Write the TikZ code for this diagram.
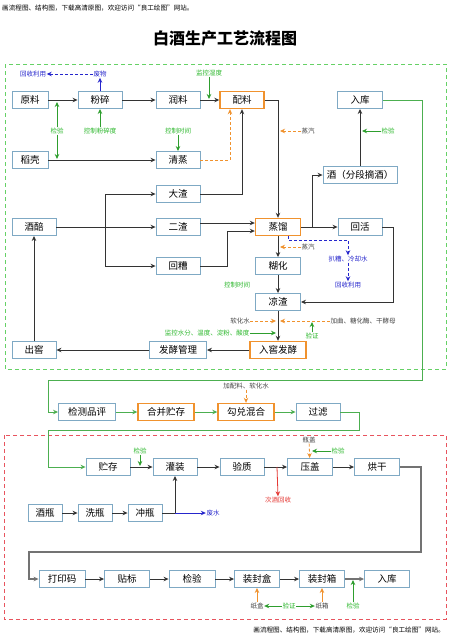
\documentclass[tikz,border=0pt]{standalone}
\usepackage{fontspec}
\setmainfont{Noto Sans CJK SC}
\usetikzlibrary{arrows.meta,calc}
\definecolor{boxc}{HTML}{7FA9C4}
\definecolor{orng}{HTML}{F0922E}
\definecolor{grn}{HTML}{2DB82D}
\definecolor{grnl}{HTML}{2E9E2E}
\definecolor{grnbig}{HTML}{4CAF50}
\definecolor{grnbox}{HTML}{66D166}
\definecolor{blu}{HTML}{2626CC}
\definecolor{redc}{HTML}{E53935}
\definecolor{redbox}{HTML}{E8545E}
\definecolor{linec}{HTML}{333333}
\definecolor{txtgray}{HTML}{444444}
\tikzset{
  box/.style={draw=boxc, fill=white, line width=0.9pt, minimum height=17pt, inner sep=0pt, font=\fontsize{9.5}{11}\selectfont},
  obox/.style={box, draw=orng, line width=1.4pt},
  lab/.style={font=\fontsize{6.5}{7}\selectfont, inner sep=0.5pt, text=txtgray},
  glab/.style={lab, text=grn},
  blab/.style={lab, text=blu},
  rlab/.style={lab, text=redc},
  flow/.style={draw=linec, line width=0.8pt, -{Stealth[length=5pt,width=4.5pt]}},
  gflow/.style={flow, draw=grnl},
  bigg/.style={flow, draw=grnbig, line width=1pt},
  oflow/.style={flow, draw=orng, dash pattern=on 3pt off 2pt},
  bflow/.style={flow, draw=blu},
  bdash/.style={flow, draw=blu, dash pattern=on 3pt off 2pt},
  rflow/.style={flow, draw=redc},
}
\begin{document}
\begin{tikzpicture}[x=1pt,y=-1pt]
\useasboundingbox (0,0) rectangle (451,640);
\fill[white] (0,0) rectangle (451,640);
% header texts
\node[anchor=west, font=\fontsize{6.6}{7}\selectfont, inner sep=0] (toptxt) at (2,8) {画流程图、结构图，下载高清原图，欢迎访问“良工绘图”网站。};
\node[font=\fontsize{16}{18}\selectfont\bfseries, inner sep=0] (title) at (225,38) {白酒生产工艺流程图};
\node[anchor=east, font=\fontsize{6.6}{7}\selectfont, inner sep=0] (bottxt) at (445,630) {画流程图、结构图，下载高清原图，欢迎访问“良工绘图”网站。};
% group boxes
\draw[draw=grnbox, line width=1pt, dash pattern=on 4pt off 3pt] (5,64) rectangle (446,369);
\draw[draw=redbox, line width=1pt, dash pattern=on 4pt off 3pt] (4,435) rectangle (446,619);

% ---------- section 1 nodes ----------
\node[box, minimum width=36pt] (yuanliao) at (30,100) {原料};
\node[box, minimum width=44pt] (fensui) at (100,100) {粉碎};
\node[box, minimum width=44pt] (runliao) at (178,100) {润料};
\node[obox, minimum width=44pt] (peiliao) at (242,100) {配料};
\node[box, minimum width=45pt] (ruku1) at (360,100) {入库};
\node[box, minimum width=36pt] (daoke) at (30,160) {稻壳};
\node[box, minimum width=44pt] (qingzheng) at (178,160) {清蒸};
\node[box, minimum width=74pt] (jiu) at (360,175) {酒（分段摘酒）};
\node[box, minimum width=44pt] (dazha) at (178,194) {大渣};
\node[box, minimum width=44pt] (erzha) at (178,227) {二渣};
\node[box, minimum width=44pt] (huizao) at (178,266) {回糟};
\node[box, minimum width=44pt] (jiupei) at (34,227) {酒醅};
\node[obox, minimum width=45pt] (zhengliu) at (278,227) {蒸馏};
\node[box, minimum width=44pt] (huihuo) at (360,227) {回活};
\node[box, minimum width=45pt] (huhua) at (278,266) {糊化};
\node[box, minimum width=45pt] (liangzha) at (278,302) {凉渣};
\node[obox, minimum width=56pt] (rujiao) at (278,350) {入窖发酵};
\node[box, minimum width=57pt] (fajiao) at (178,350) {发酵管理};
\node[box, minimum width=44pt] (chujiao) at (34,350) {出窖};

% labels section 1
\node[blab] (huishou1) at (33,74) {回收利用};
\node[blab] (feiwu) at (100,74) {废物};
\node[glab] (jy1) at (57,131) {检验};
\node[glab] (kz1) at (100,131) {控制粉碎度};
\node[glab] (kz2) at (178,131) {控制时间};
\node[glab] (jk1) at (209,73) {监控湿度};
\node[lab] (zq1) at (308,131) {蒸汽};
\node[glab] (jy2) at (388,131) {检验};
\node[lab] (zq2) at (308,247) {蒸汽};
\node[blab] (pazao) at (348,259) {扒糟、冷却水};
\node[blab] (huishou2) at (348,285) {回收利用};
\node[glab] (kz3) at (237,285) {控制时间};
\node[lab] (rhs) at (240,321) {软化水};
\node[lab] (jq) at (363,321) {加曲、糖化酶、干酵母};
\node[glab] (yz1) at (312,336) {验证};
\node[glab] (jk2) at (207,333) {监控水分、温度、淀粉、酸度};

% coordinates section 1
\coordinate (g1) at (57,102);
\coordinate (g2) at (57,159);
\coordinate (g3) at (209,99);
\coordinate (o1) at (280,131);
\coordinate (g4) at (362,131);
\coordinate (o2) at (280,247);
\coordinate (o3) at (276,321);
\coordinate (o4) at (280,321);
\coordinate (g5) at (312,322);
\coordinate (g6) at (276,333);
\coordinate (split1) at (105,227);
\coordinate (c1) at (227,231);
\coordinate (c2) at (312,227);
\coordinate (c3) at (422,380);
\coordinate (c4) at (48,412);
\coordinate (c5) at (393,302);
\coordinate (b1) at (348,240);

% connectors section 1
\draw[flow] (yuanliao) -- (fensui);
\draw[flow] (fensui) -- (runliao);
\draw[flow] (runliao) -- (peiliao);
\draw[flow] (daoke) -- (qingzheng);
\draw[oflow] (qingzheng.east) -| ([xshift=-12pt]peiliao.south);
\draw[flow] (dazha.east) -| (peiliao.south);
\draw[flow] (peiliao.east) -| (zhengliu.north);
\draw[flow] (jiupei) -- (erzha);
\draw[flow] (split1) |- (dazha.west);
\draw[flow] (split1) |- (huizao.west);
\draw[flow] ([yshift=4pt]erzha.east) -- ([yshift=4pt]zhengliu.west);
\draw[flow] (huizao.east) -| (c1) -- ([yshift=-4pt]zhengliu.west);
\draw[flow] (zhengliu) -- (huihuo);
\draw[flow] (c2) |- (jiu.west);
\draw[flow] (jiu) -- (ruku1);
\draw[flow] (huihuo.east) -| (c5) -- (liangzha.east);
\draw[flow] (zhengliu) -- (huhua);
\draw[flow] (huhua) -- (liangzha);
\draw[flow] (liangzha) -- (rujiao);
\draw[flow] (rujiao) -- (fajiao);
\draw[flow] (fajiao) -- (chujiao);
\draw[flow] (chujiao) -- (jiupei);

\draw[bflow] (fensui) -- (feiwu);
\draw[bdash] (feiwu) -- (huishou1);
\draw[gflow] (jy1) -- (g1);
\draw[gflow] (jy1) -- (g2);
\draw[gflow] (kz1) -- (fensui);
\draw[gflow] (kz2) -- (qingzheng);
\draw[gflow] (jk1) -- (g3);
\draw[oflow] (zq1) -- (o1);
\draw[gflow] (jy2) -- (g4);
\draw[oflow] (zq2) -- (o2);
\draw[bdash] ([xshift=10pt]zhengliu.south) |- (b1) -- (pazao.north);
\draw[bdash] (pazao) -- (huishou2);
\draw[oflow] (rhs) -- (o3);
\draw[oflow] (jq) -- (o4);
\draw[gflow] (yz1) -- (g5);
\draw[gflow] (jk2) -- (g6);

% ---------- section 2 ----------
\node[box, minimum width=57pt] (jiance) at (87,412) {检测品评};
\node[obox, minimum width=56pt] (hebing) at (166,412) {合并贮存};
\node[obox, minimum width=56pt] (goudui) at (246,412) {勾兑混合};
\node[box, minimum width=44pt] (guolv) at (318,412) {过滤};
\node[lab] (jpl) at (246,386) {加配料、软化水};
\coordinate (c6) at (359,430);
\coordinate (c7) at (48,467);
\draw[bigg] (ruku1.east) -| (c3) -| (c4) -- (jiance.west);
\draw[bigg] (jiance) -- (hebing);
\draw[bigg] (hebing) -- (goudui);
\draw[bigg] (goudui) -- (guolv);
\draw[oflow] (jpl) -- (goudui);

% ---------- section 3 ----------
\node[box, minimum width=44pt] (zhucun) at (108,467) {贮存};
\node[box, minimum width=44pt] (guanzhuang) at (175,467) {灌装};
\node[box, minimum width=44pt] (yanzhi) at (242,467) {验质};
\node[box, minimum width=45pt] (yagai) at (310,467) {压盖};
\node[box, minimum width=45pt] (honggan) at (377,467) {烘干};
\node[box, minimum width=34pt] (jiuping) at (45,513) {酒瓶};
\node[box, minimum width=34pt] (xiping) at (95,513) {洗瓶};
\node[box, minimum width=34pt] (chongping) at (145,513) {冲瓶};
\node[glab] (jy3) at (140,451) {检验};
\node[rlab] (cjhs) at (278,500) {次酒回收};
\node[lab] (pg) at (309,440) {瓶盖};
\node[glab] (jy4) at (338,451) {检验};
\node[blab] (feishui) at (213,513) {废水};
\coordinate (g7) at (140,466);
\coordinate (r1) at (277,467);
\coordinate (g8) at (312,451);
\coordinate (c8) at (175,513);
\coordinate (c9) at (421,552);
\coordinate (c10) at (29,579);

\draw[bigg] (guolv.east) -| (c6) -| (c7) -- (zhucun.west);
\draw[flow] (zhucun) -- (guanzhuang);
\draw[flow] (guanzhuang) -- (yanzhi);
\draw[flow] (yanzhi) -- (yagai);
\draw[flow] (yagai) -- (honggan);
\draw[flow] (jiuping) -- (xiping);
\draw[flow] (xiping) -- (chongping);
\draw[flow] (chongping.east) -- (c8) -- (guanzhuang.south);
\draw[bflow] (c8) -- (feishui.west);
\draw[gflow] (jy3) -- (g7);
\draw[rflow] (r1) -- (cjhs.north);
\draw[oflow] (pg) -- (yagai);
\draw[gflow] (jy4) -- (g8);

% ---------- section 4 ----------
\node[box, minimum width=46pt] (dayin) at (62,579) {打印码};
\node[box, minimum width=45pt] (tiebiao) at (127,579) {贴标};
\node[box, minimum width=46pt] (jianyan) at (192,579) {检验};
\node[box, minimum width=45pt] (fenghe) at (257,579) {装封盒};
\node[box, minimum width=45pt] (fengxiang) at (322,579) {装封箱};
\node[box, minimum width=45pt] (ruku2) at (387,579) {入库};
\node[lab] (zh) at (257,606) {纸盒};
\node[lab] (zx) at (322,606) {纸箱};
\node[glab] (yz2) at (289,606) {验证};
\node[glab] (jy5) at (353,606) {检验};
\coordinate (g9) at (353,580);
\draw[flow, draw=gray!90!black, line width=1.3pt] (honggan.east) -| (c9) -| (c10) -- (dayin.west);
\draw[flow] (dayin) -- (tiebiao);
\draw[flow] (tiebiao) -- (jianyan);
\draw[flow] (jianyan) -- (fenghe);
\draw[flow] (fenghe) -- (fengxiang);
\draw[flow, draw=gray!90!black, line width=1.3pt] (fengxiang) -- (ruku2);
\draw[flow, draw=orng] (zh) -- (fenghe);
\draw[flow, draw=orng] (zx) -- (fengxiang);
\draw[gflow] (yz2) -- (zh);
\draw[gflow] (yz2) -- (zx);
\draw[gflow] (jy5) -- (g9);
\end{tikzpicture}
\end{document}
